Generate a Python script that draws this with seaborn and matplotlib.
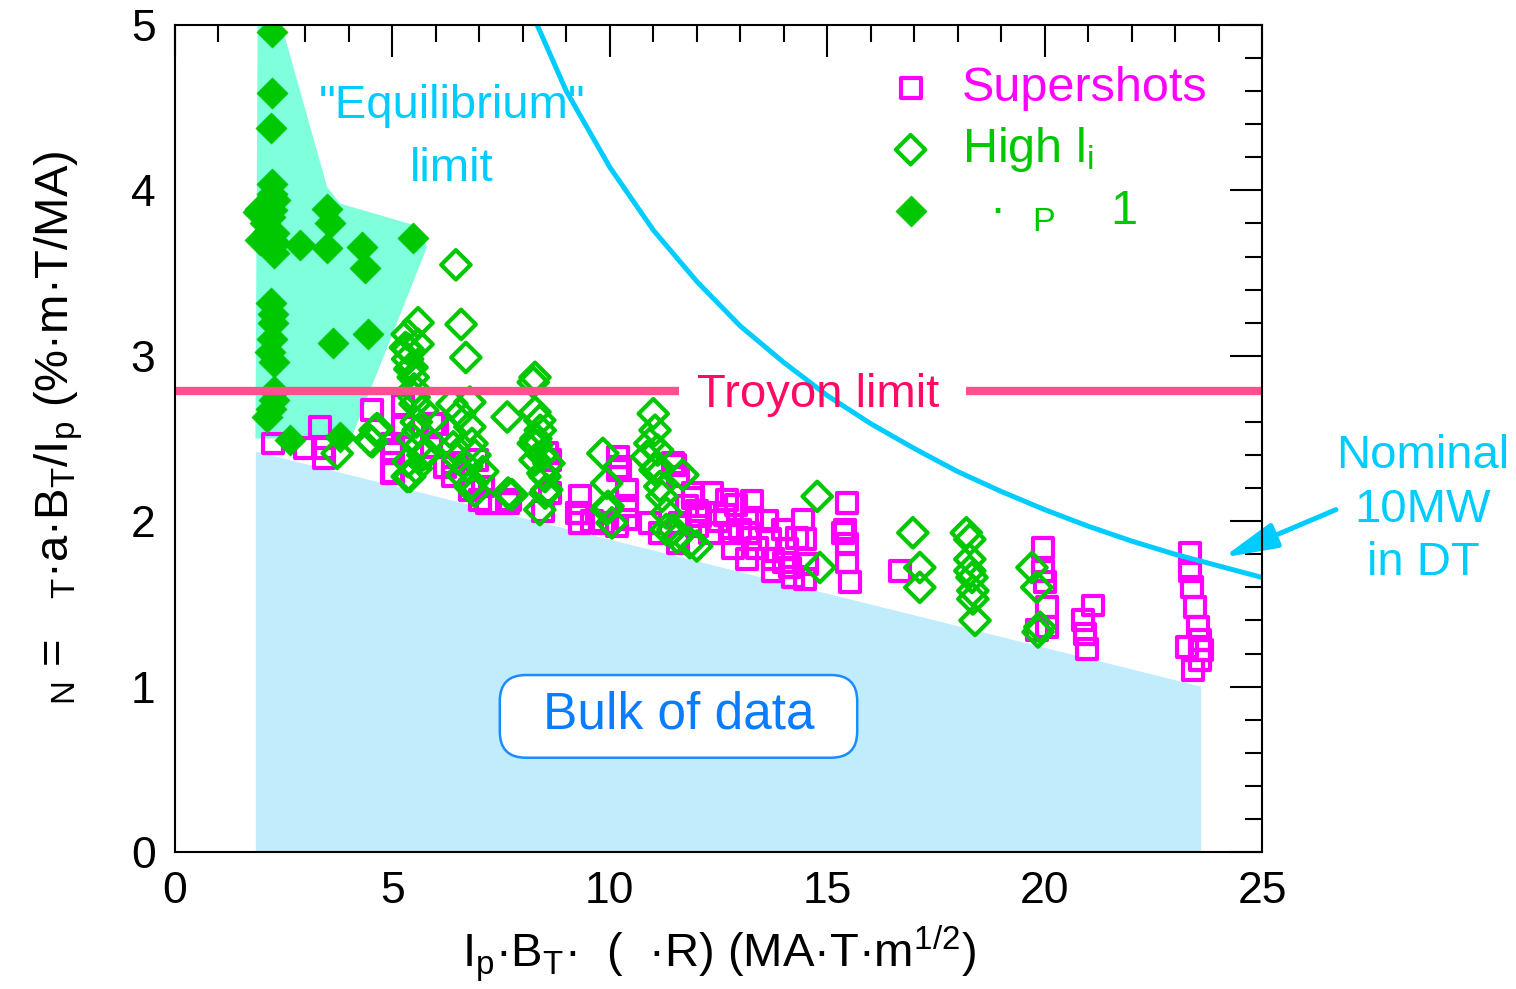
import matplotlib
matplotlib.use('Agg')
import matplotlib.pyplot as plt
import seaborn as sns
import pandas as pd
from matplotlib.patches import FancyBboxPatch
from matplotlib.ticker import MultipleLocator

# ---------------- data ----------------
ss_x = [2.25, 2.99, 3.33, 3.40, 3.42, 4.53, 4.99, 4.99, 4.99, 5.24, 6.03, 6.39, 6.78, 5.24, 5.01, 5.01,
        5.93, 6.95, 7.18, 7.66, 8.55, 9.31, 10.19, 10.19, 10.40, 11.45, 11.91, 10.23, 9.25, 9.31, 10.40,
        10.17, 9.84, 11.78, 12.08, 8.62, 8.62, 8.46, 7.01, 7.70, 7.08, 9.31, 10.40, 11.50, 11.57, 11.91,
        12.00, 12.00, 12.35, 12.69, 12.65, 12.81, 12.83, 13.27, 13.27, 13.18, 13.16, 13.62, 13.68, 13.75,
        13.98, 14.08, 14.14, 14.44, 14.49, 14.54, 14.49, 15.46, 15.41, 15.46, 15.46, 15.52, 11.15, 11.57,
        11.61, 12.30, 10.92, 13.38, 13.75, 14.21, 15.37, 16.67, 19.96, 19.96, 20.01, 20.05, 20.05, 19.82,
        21.11, 20.88, 20.93, 20.97, 23.34, 23.34, 23.39, 23.46, 23.53, 23.57, 23.57, 23.27, 23.41, 23.62,
        5.90, 6.20, 6.40, 9.60, 12.50, 12.90, 13.00, 14.30, 14.00]
ss_y = [2.47, 2.44, 2.57, 2.44, 2.38, 2.67, 2.47, 2.41, 2.29, 2.57, 2.59, 2.27, 2.19, 2.70, 2.43, 2.30,
        2.59, 2.37, 2.11, 2.11, 2.41, 2.15, 2.39, 2.31, 2.19, 2.35, 2.17, 2.33, 2.05, 1.99, 2.09,
        1.97, 1.99, 2.09, 2.03, 2.37, 2.17, 2.06, 2.13, 2.13, 2.21, 2.05, 2.01, 2.34, 2.27, 2.14,
        2.06, 1.97, 2.17, 2.13, 2.04, 1.93, 1.84, 2.12, 2.02, 1.93, 1.77, 2.00, 1.89, 1.77,
        1.95, 1.83, 1.72, 2.01, 1.89, 1.74, 1.65, 2.11, 1.95, 1.86, 1.75, 1.63, 1.93, 1.87,
        1.99, 1.93, 1.99, 1.84, 1.70, 1.66, 1.93, 1.70, 1.84, 1.70, 1.63, 1.48, 1.36, 1.34,
        1.49, 1.40, 1.32, 1.23, 1.81, 1.70, 1.60, 1.48, 1.36, 1.28, 1.16, 1.24, 1.10, 1.22,
        2.45, 2.33, 2.35, 2.00, 2.00, 2.10, 1.95, 1.90, 1.75]

hi_x = [6.46, 5.59, 6.58, 5.34, 5.59, 6.69, 5.36, 5.45, 5.48, 8.28, 8.24, 5.52, 6.37, 6.78, 7.64, 8.28,
        8.39, 5.70, 6.55, 4.60, 4.48, 5.59, 6.32, 6.78, 8.24, 5.79, 6.83, 5.36, 6.71, 8.28, 8.46, 9.84,
        11.00, 11.04, 10.92, 10.85, 11.04, 11.68, 5.40, 7.08, 9.93, 11.15, 7.75, 8.55, 6.83, 8.32, 6.78,
        8.51, 8.51, 8.39, 9.96, 10.05, 11.30, 11.30, 11.84, 11.55, 11.09, 7.66, 9.93, 14.77, 14.83, 16.97,
        17.13, 17.13, 18.20, 18.28, 18.28, 18.28, 18.33, 18.35, 18.35, 18.40, 19.71, 19.82, 19.85, 19.89,
        4.65, 4.53, 3.73, 5.34, 5.30, 5.35, 5.40, 5.50, 5.50, 5.55, 5.45, 5.60, 5.70, 5.55, 6.40, 6.50,
        6.60, 6.90, 6.90, 8.40, 8.45, 8.60, 11.10, 11.20, 11.45, 12.00, 8.30]
hi_y = [3.55, 3.20, 3.19, 3.13, 3.07, 2.99, 3.04, 2.93, 2.87, 2.87, 2.84, 2.71, 2.71, 2.72, 2.63, 2.66,
        2.61, 2.67, 2.65, 2.55, 2.49, 2.55, 2.54, 2.57, 2.47, 2.41, 2.47, 2.36, 2.33, 2.37, 2.29, 2.41,
        2.65, 2.55, 2.47, 2.39, 2.31, 2.28, 2.27, 2.30, 2.23, 2.21, 2.16, 2.19, 2.23, 2.46, 2.21,
        2.27, 2.17, 2.07, 2.09, 1.99, 2.05, 1.95, 1.87, 1.90, 2.33, 2.17, 2.07, 2.15, 1.72, 1.93,
        1.72, 1.60, 1.93, 1.89, 1.77, 1.70, 1.66, 1.58, 1.53, 1.40, 1.72, 1.60, 1.33, 1.36,
        2.56, 2.48, 2.41, 2.27, 3.05, 2.98, 2.92, 2.80, 2.75, 2.60, 2.50, 2.45, 2.40, 2.32, 2.45, 2.38,
        2.28, 2.40, 2.18, 2.55, 2.40, 2.35, 2.43, 2.15, 1.95, 1.85, 2.50]

bp_x = [2.23, 2.23, 2.21, 2.23, 2.23, 1.95, 2.23, 2.07, 2.28, 1.95, 2.28, 2.87, 3.50, 3.57, 3.50, 4.30,
        4.37, 5.47, 2.21, 2.26, 2.26, 2.23, 2.18, 2.28, 3.63, 4.44, 2.28, 2.28, 2.11, 2.64, 3.80,
        2.15, 2.30, 2.18, 2.30, 2.20, 1.91, 2.02]
bp_y = [4.96, 4.59, 4.38, 4.04, 3.98, 3.89, 3.88, 3.80, 3.74, 3.70, 3.62, 3.67, 3.89, 3.80, 3.65, 3.66,
        3.53, 3.71, 3.32, 3.25, 3.20, 3.10, 3.02, 2.96, 3.08, 3.13, 2.79, 2.73, 2.63, 2.49, 2.51,
        3.75, 3.68, 3.84, 3.94, 2.68, 3.87, 3.70]

# "Nominal 10MW in DT" curve
dt_x = [8.33, 9.0, 10.0, 11.0, 12.0, 13.0, 14.0, 15.0, 16.0, 17.0, 18.0, 19.0, 20.0, 21.0, 22.0, 23.0, 24.0, 25.0]
dt_y = [5.00, 4.60, 4.14, 3.76, 3.45, 3.18, 2.96, 2.76, 2.59, 2.44, 2.30, 2.18, 2.07, 1.97, 1.88, 1.80, 1.73, 1.66]

# shaded regions
bulk_x = [1.86, 1.86, 23.6, 23.6]
bulk_y = [0.0, 2.42, 1.00, 0.0]
eq_x = [1.85, 1.90, 2.45, 3.50, 3.80, 5.50, 5.80, 4.05]
eq_y = [2.50, 5.00, 5.00, 4.02, 3.92, 3.79, 3.66, 2.50]

troyon_level = 2.79
troyon_segments = [(0.0, 11.6), (18.2, 25.0)]

# ---------------- style ----------------
sns.set_theme(style='white')
plt.rcParams['font.family'] = ['Liberation Sans', 'DejaVu Sans']
plt.rcParams['mathtext.fontset'] = 'custom'
plt.rcParams['mathtext.rm'] = 'Liberation Sans'
plt.rcParams['mathtext.it'] = 'Liberation Sans'
plt.rcParams['mathtext.bf'] = 'Liberation Sans:bold'
plt.rcParams['mathtext.default'] = 'regular'

GREEN = '#00c800'
MAGENTA = '#ff00ff'
CYAN = '#00ccff'
PINK_LINE = '#ff4f8f'
PINK_TEXT = '#ff0a64'

fig = plt.figure(figsize=(15.16, 9.89), dpi=100)
ax = fig.add_axes([175 / 1516, 1 - 852 / 989, (1262 - 175) / 1516, (852 - 25) / 989])

ax.fill(bulk_x, bulk_y, color='#c0ecfb', lw=0, zorder=1)
ax.fill(eq_x, eq_y, color='#80ffdc', lw=0, zorder=1)

df_ss = pd.DataFrame({'x': ss_x, 'y': ss_y})
df_hi = pd.DataFrame({'x': hi_x, 'y': hi_y})
df_bp = pd.DataFrame({'x': bp_x, 'y': bp_y})

sns.scatterplot(data=df_ss, x='x', y='y', marker='s', s=205, facecolors='none',
                edgecolors=MAGENTA, linewidths=3, ax=ax, zorder=3, label='Supershots')
sns.scatterplot(data=df_hi, x='x', y='y', marker='D', s=225, facecolors='none',
                edgecolors=GREEN, linewidths=3, ax=ax, zorder=4, label='High l$_i$')
sns.scatterplot(data=df_bp, x='x', y='y', marker='D', s=250, color=GREEN,
                edgecolor=GREEN, linewidth=0.5, ax=ax, zorder=5, label='  ·  $_P$    1')

for x0, x1 in troyon_segments:
    ax.plot([x0, x1], [troyon_level, troyon_level], color=PINK_LINE, lw=6, zorder=6,
            solid_capstyle='butt')
sns.lineplot(x=dt_x, y=dt_y, sort=False, color=CYAN, lw=3.6, ax=ax, zorder=6)

ax.set_xlim(0, 25)
ax.set_ylim(0, 5)
ax.xaxis.set_major_locator(MultipleLocator(5))
ax.xaxis.set_minor_locator(MultipleLocator(1))
ax.yaxis.set_major_locator(MultipleLocator(1))
ax.yaxis.set_minor_locator(MultipleLocator(0.2))
ax.tick_params(which='both', direction='in', top=True, right=True, width=1.5,
               color='black', labelsize=32, pad=14, labelcolor='black')
ax.tick_params(which='major', length=23)
ax.tick_params(which='minor', length=12)
for sp in ax.spines.values():
    sp.set_color('black')
    sp.set_linewidth(1.5)
    sp.set_zorder(10)

ax.set_xlabel('I$_p$·B$_T$·  (  ·R) (MA·T·m$^{1/2}$)', fontsize=34, color='black', labelpad=8)
ax.set_ylabel('$_N$ =   $_T$·a·B$_T$/I$_p$ (%·m·T/MA)', fontsize=34, color='black')
ax.yaxis.set_label_coords(-0.083, 0.513)

# annotations
ax.text(14.8, 2.765, 'Troyon limit', color=PINK_TEXT, fontsize=34,
        ha='center', va='center', zorder=7)
ax.text(6.37, 4.32, '"Equilibrium"\nlimit', color=CYAN, fontsize=34, ha='center',
        va='center', linespacing=1.55, zorder=7)
ax.text(28.7, 2.07, 'Nominal\n10MW\nin DT', color=CYAN, fontsize=34, ha='center',
        va='center', linespacing=1.28, clip_on=False, zorder=7)
ax.annotate('', xy=(24.1, 1.78), xytext=(26.7, 2.07), annotation_clip=False,
            arrowprops=dict(arrowstyle='-|>,head_length=1.1,head_width=0.26',
                            mutation_scale=30, color=CYAN, lw=3.6, shrinkA=0, shrinkB=0),
            zorder=7)

box = FancyBboxPatch((7.47, 0.57), 15.69 - 7.47, 1.07 - 0.57,
                     boxstyle='round,pad=0,rounding_size=0.6', mutation_aspect=43.48 / 165.4,
                     fc='white', ec='#1a8cff', lw=1.8, zorder=7)
ax.add_patch(box)
ax.text(11.58, 0.83, 'Bulk of data', color='#0a7cff', fontsize=37, ha='center',
        va='center', zorder=8)

leg = ax.legend(loc='upper left', bbox_to_anchor=(0.632, 0.98), frameon=False,
                fontsize=35, handletextpad=0.55, labelspacing=0.3, borderpad=0,
                handlelength=1.0, markerscale=1.0)
for txt, col in zip(leg.get_texts(), [MAGENTA, GREEN, GREEN]):
    txt.set_color(col)

fig.savefig('out.png', dpi=100, facecolor='white')
